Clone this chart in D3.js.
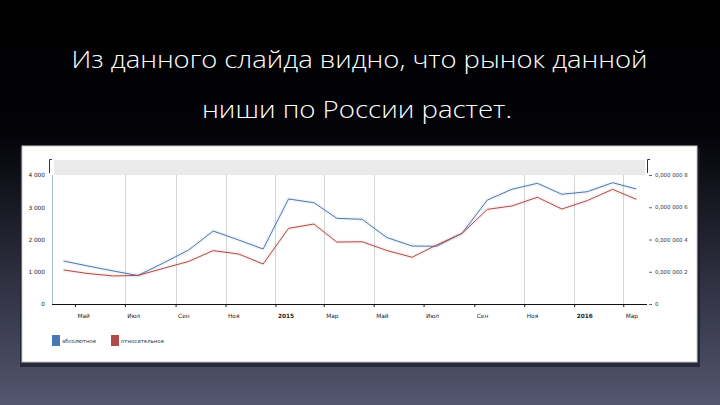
<!DOCTYPE html>
<html>
<head>
<meta charset="utf-8">
<script src="https://cdn.jsdelivr.net/npm/d3@7"></script>
<style>
  html, body { margin: 0; padding: 0; background: #000; }
  svg { display: block; }
</style>
</head>
<body>
<div id="chart"></div>
<script>
const titleLines = ['Из данного слайда видно, что рынок данной', 'ниши по России растет.'];

const months = ['2014-04', '2014-05', '2014-06', '2014-07', '2014-08', '2014-09',
    '2014-10', '2014-11', '2014-12', '2015-01', '2015-02', '2015-03',
    '2015-04', '2015-05', '2015-06', '2015-07', '2015-08', '2015-09',
    '2015-10', '2015-11', '2015-12', '2016-01', '2016-02', '2016-03'];

const absoluteValues = [1333, 1178, 1023, 884, 1271, 1674, 2264, 1985, 1705, 3256, 3141, 2657,
    2626, 2062, 1798, 1790, 2192, 3225, 3557, 3743, 3402, 3482, 3761, 3566];

const relativeValues = [2.11e-7, 1.89e-7, 1.74e-7, 1.77e-7, 2.21e-7, 2.64e-7, 3.31e-7, 3.10e-7,
    2.48e-7, 4.69e-7, 4.96e-7, 3.84e-7, 3.86e-7, 3.32e-7, 2.90e-7, 3.66e-7, 4.38e-7, 5.87e-7,
    6.08e-7, 6.62e-7, 5.89e-7, 6.41e-7, 7.11e-7, 6.49e-7];

const leftTicks = [0, 1000, 2000, 3000, 4000];
const rightTicks = [0, 2e-7, 4e-7, 6e-7, 8e-7];
const rightTickLabels = ['0', '0,000 000 2', '0,000 000 4', '0,000 000 6', '0,000 000 8'];
const monthNames = ['Янв', 'Фев', 'Мар', 'Апр', 'Май', 'Июн', 'Июл', 'Авг', 'Сен', 'Окт', 'Ноя', 'Дек'];
const noGridMonths = ['2014-05', '2015-07', '2015-09'];
const legendNames = ['абсолютное', 'относительное'];
const colors = ['#4a78b0', '#b04a48'];

const width = 720;
const height = 405;

const svg = d3.select('#chart').append('svg')
    .attr('width', width)
    .attr('height', height);

const defs = svg.append('defs');
const bg = defs.append('linearGradient')
    .attr('id', 'bg')
    .attr('x1', 0).attr('y1', 0).attr('x2', 0).attr('y2', 1);
bg.append('stop').attr('offset', '0%').attr('stop-color', '#000');
bg.append('stop').attr('offset', '33%').attr('stop-color', '#030308');
bg.append('stop').attr('offset', '100%').attr('stop-color', '#545670');

svg.append('rect')
    .attr('width', width)
    .attr('height', height)
    .attr('fill', 'url(#bg)');

// title
svg.selectAll('.title')
    .data(titleLines)
    .enter()
    .append('text')
    .attr('class', 'title')
    .attr('x', (d, i) => i == 0 ? 359.5 : 357)
    .attr('y', (d, i) => i == 0 ? 68 : 118)
    .attr('text-anchor', 'middle')
    .attr('fill', '#fff')
    .attr('font-family', 'Open Sans, sans-serif')
    .attr('font-weight', 300)
    .attr('font-size', 24)
    .attr('textLength', (d, i) => i == 0 ? 576 : 310)
    .attr('lengthAdjust', 'spacingAndGlyphs')
    .text(d => d);

// white panel with a little shadow
svg.append('rect')
    .attr('x', 20).attr('y', 148)
    .attr('width', 680).attr('height', 219)
    .attr('fill', '#1b1c28')
    .attr('opacity', 0.7);
svg.append('rect')
    .attr('x', 22).attr('y', 146)
    .attr('width', 675).attr('height', 216)
    .attr('fill', '#fff')
    .attr('stroke', '#c8c8cc')
    .attr('stroke-width', 1);

const plotLeft = 52;
const plotRight = 647;
const plotTop = 175;
const plotBottom = 304;

const parseMonth = d3.timeParse('%Y-%m');
const dates = months.map(m => d3.timeDay.offset(parseMonth(m), 16));

const xScale = d3.scaleTime()
    .domain([new Date(2014, 3, 3), new Date(2016, 2, 30)])
    .range([plotLeft, plotRight]);

const yLeft = d3.scaleLinear()
    .domain([0, 4000])
    .range([plotBottom, plotTop]);

const yRight = d3.scaleLinear()
    .domain([0, 8e-7])
    .range([plotBottom, plotTop]);

// navigator-like grey band on top
svg.append('rect')
    .attr('x', plotLeft + 2).attr('y', 160)
    .attr('width', plotRight - plotLeft - 4).attr('height', 15)
    .attr('fill', '#eaeaea');
[plotLeft - 3, plotRight].forEach(x => {
    svg.append('path')
        .attr('d', `M${x + 3},159.5 L${x + 0.5},159.5 L${x + 0.5},173`)
        .attr('fill', 'none')
        .attr('stroke', '#333')
        .attr('stroke-width', 1);
});

const tickDates = d3.timeMonth.every(2).range(new Date(2014, 4, 1), new Date(2016, 3, 1));

// vertical grid
svg.append('g')
    .selectAll('line')
    .data(tickDates.filter(d => !noGridMonths.includes(d3.timeFormat('%Y-%m')(d))))
    .enter()
    .append('line')
    .attr('x1', d => Math.round(xScale(d)) + 0.5)
    .attr('x2', d => Math.round(xScale(d)) + 0.5)
    .attr('y1', plotTop)
    .attr('y2', plotBottom)
    .attr('stroke', '#d4d4d4')
    .attr('stroke-width', 1);

// y axis line
svg.append('line')
    .attr('x1', plotLeft + 0.5).attr('x2', plotLeft + 0.5)
    .attr('y1', plotTop).attr('y2', plotBottom)
    .attr('stroke', '#a8c0cc')
    .attr('stroke-width', 1);

const yAxisLeft = d3.axisLeft(yLeft)
    .tickValues(leftTicks)
    .tickSize(0)
    .tickPadding(7)
    .tickFormat(d => d3.format(',')(d).replace(/,/g, ' '));

svg.append('g')
    .attr('transform', `translate(${plotLeft},0)`)
    .call(yAxisLeft)
    .call(g => g.select('.domain').remove())
    .selectAll('text')
    .attr('font-family', 'DejaVu Sans, sans-serif')
    .attr('font-size', 5.8)
    .attr('fill', '#222');

const yAxisRight = d3.axisRight(yRight)
    .tickValues(rightTicks)
    .tickSize(3)
    .tickPadding(3)
    .tickFormat((d, i) => rightTickLabels[i]);

svg.append('g')
    .attr('transform', `translate(${plotRight + 2},0)`)
    .call(yAxisRight)
    .call(g => g.select('.domain').remove())
    .call(g => g.selectAll('line').attr('stroke', '#666'))
    .selectAll('text')
    .attr('font-family', 'DejaVu Sans, sans-serif')
    .attr('font-size', 5.4)
    .attr('fill', '#333');

const xAxis = d3.axisBottom(xScale)
    .tickValues(tickDates)
    .tickSize(3)
    .tickPadding(7)
    .tickFormat(d => d.getMonth() == 0 ? d.getFullYear() : monthNames[d.getMonth()]);

svg.append('g')
    .attr('transform', `translate(0,${plotBottom})`)
    .call(xAxis)
    .call(g => g.select('.domain').attr('d', `M${plotLeft},0.5H${plotRight}`).attr('stroke', '#111'))
    .call(g => g.selectAll('line').attr('stroke', '#111'))
    .selectAll('text')
    .attr('text-anchor', 'start')
    .attr('dx', 2)
    .attr('font-family', 'DejaVu Sans, sans-serif')
    .attr('font-size', 5.8)
    .attr('font-weight', d => d.getMonth() == 0 ? 'bold' : 'normal')
    .attr('fill', '#222');

// lines
const absLine = d3.line()
    .x((d, i) => xScale(dates[i]))
    .y(d => yLeft(d));

const relLine = d3.line()
    .x((d, i) => xScale(dates[i]))
    .y(d => yRight(d));

const series = [
    {values: absoluteValues, line: absLine, color: colors[0]},
    {values: relativeValues, line: relLine, color: colors[1]}
];

const plot = svg.append('g');
series.forEach(s => {
    plot.append('path')
        .attr('d', s.line(s.values))
        .attr('fill', 'none')
        .attr('stroke', s.color)
        .attr('stroke-opacity', 0.07)
        .attr('stroke-width', 4)
        .attr('stroke-linejoin', 'round');
});
series.forEach(s => {
    plot.append('path')
        .attr('d', s.line(s.values))
        .attr('fill', 'none')
        .attr('stroke', s.color)
        .attr('stroke-width', 1)
        .attr('stroke-linejoin', 'round');
});

// legend
const legend = svg.append('g')
    .selectAll('g')
    .data(legendNames)
    .enter()
    .append('g')
    .attr('transform', (d, i) => `translate(${i == 0 ? 52 : 111},335)`);

legend.append('rect')
    .attr('width', 8)
    .attr('height', 11)
    .attr('fill', (d, i) => colors[i]);

legend.append('text')
    .attr('x', 10)
    .attr('y', 8)
    .attr('font-family', 'DejaVu Sans, sans-serif')
    .attr('font-size', 5.4)
    .attr('fill', '#333')
    .text(d => d);
</script>
</body>
</html>
